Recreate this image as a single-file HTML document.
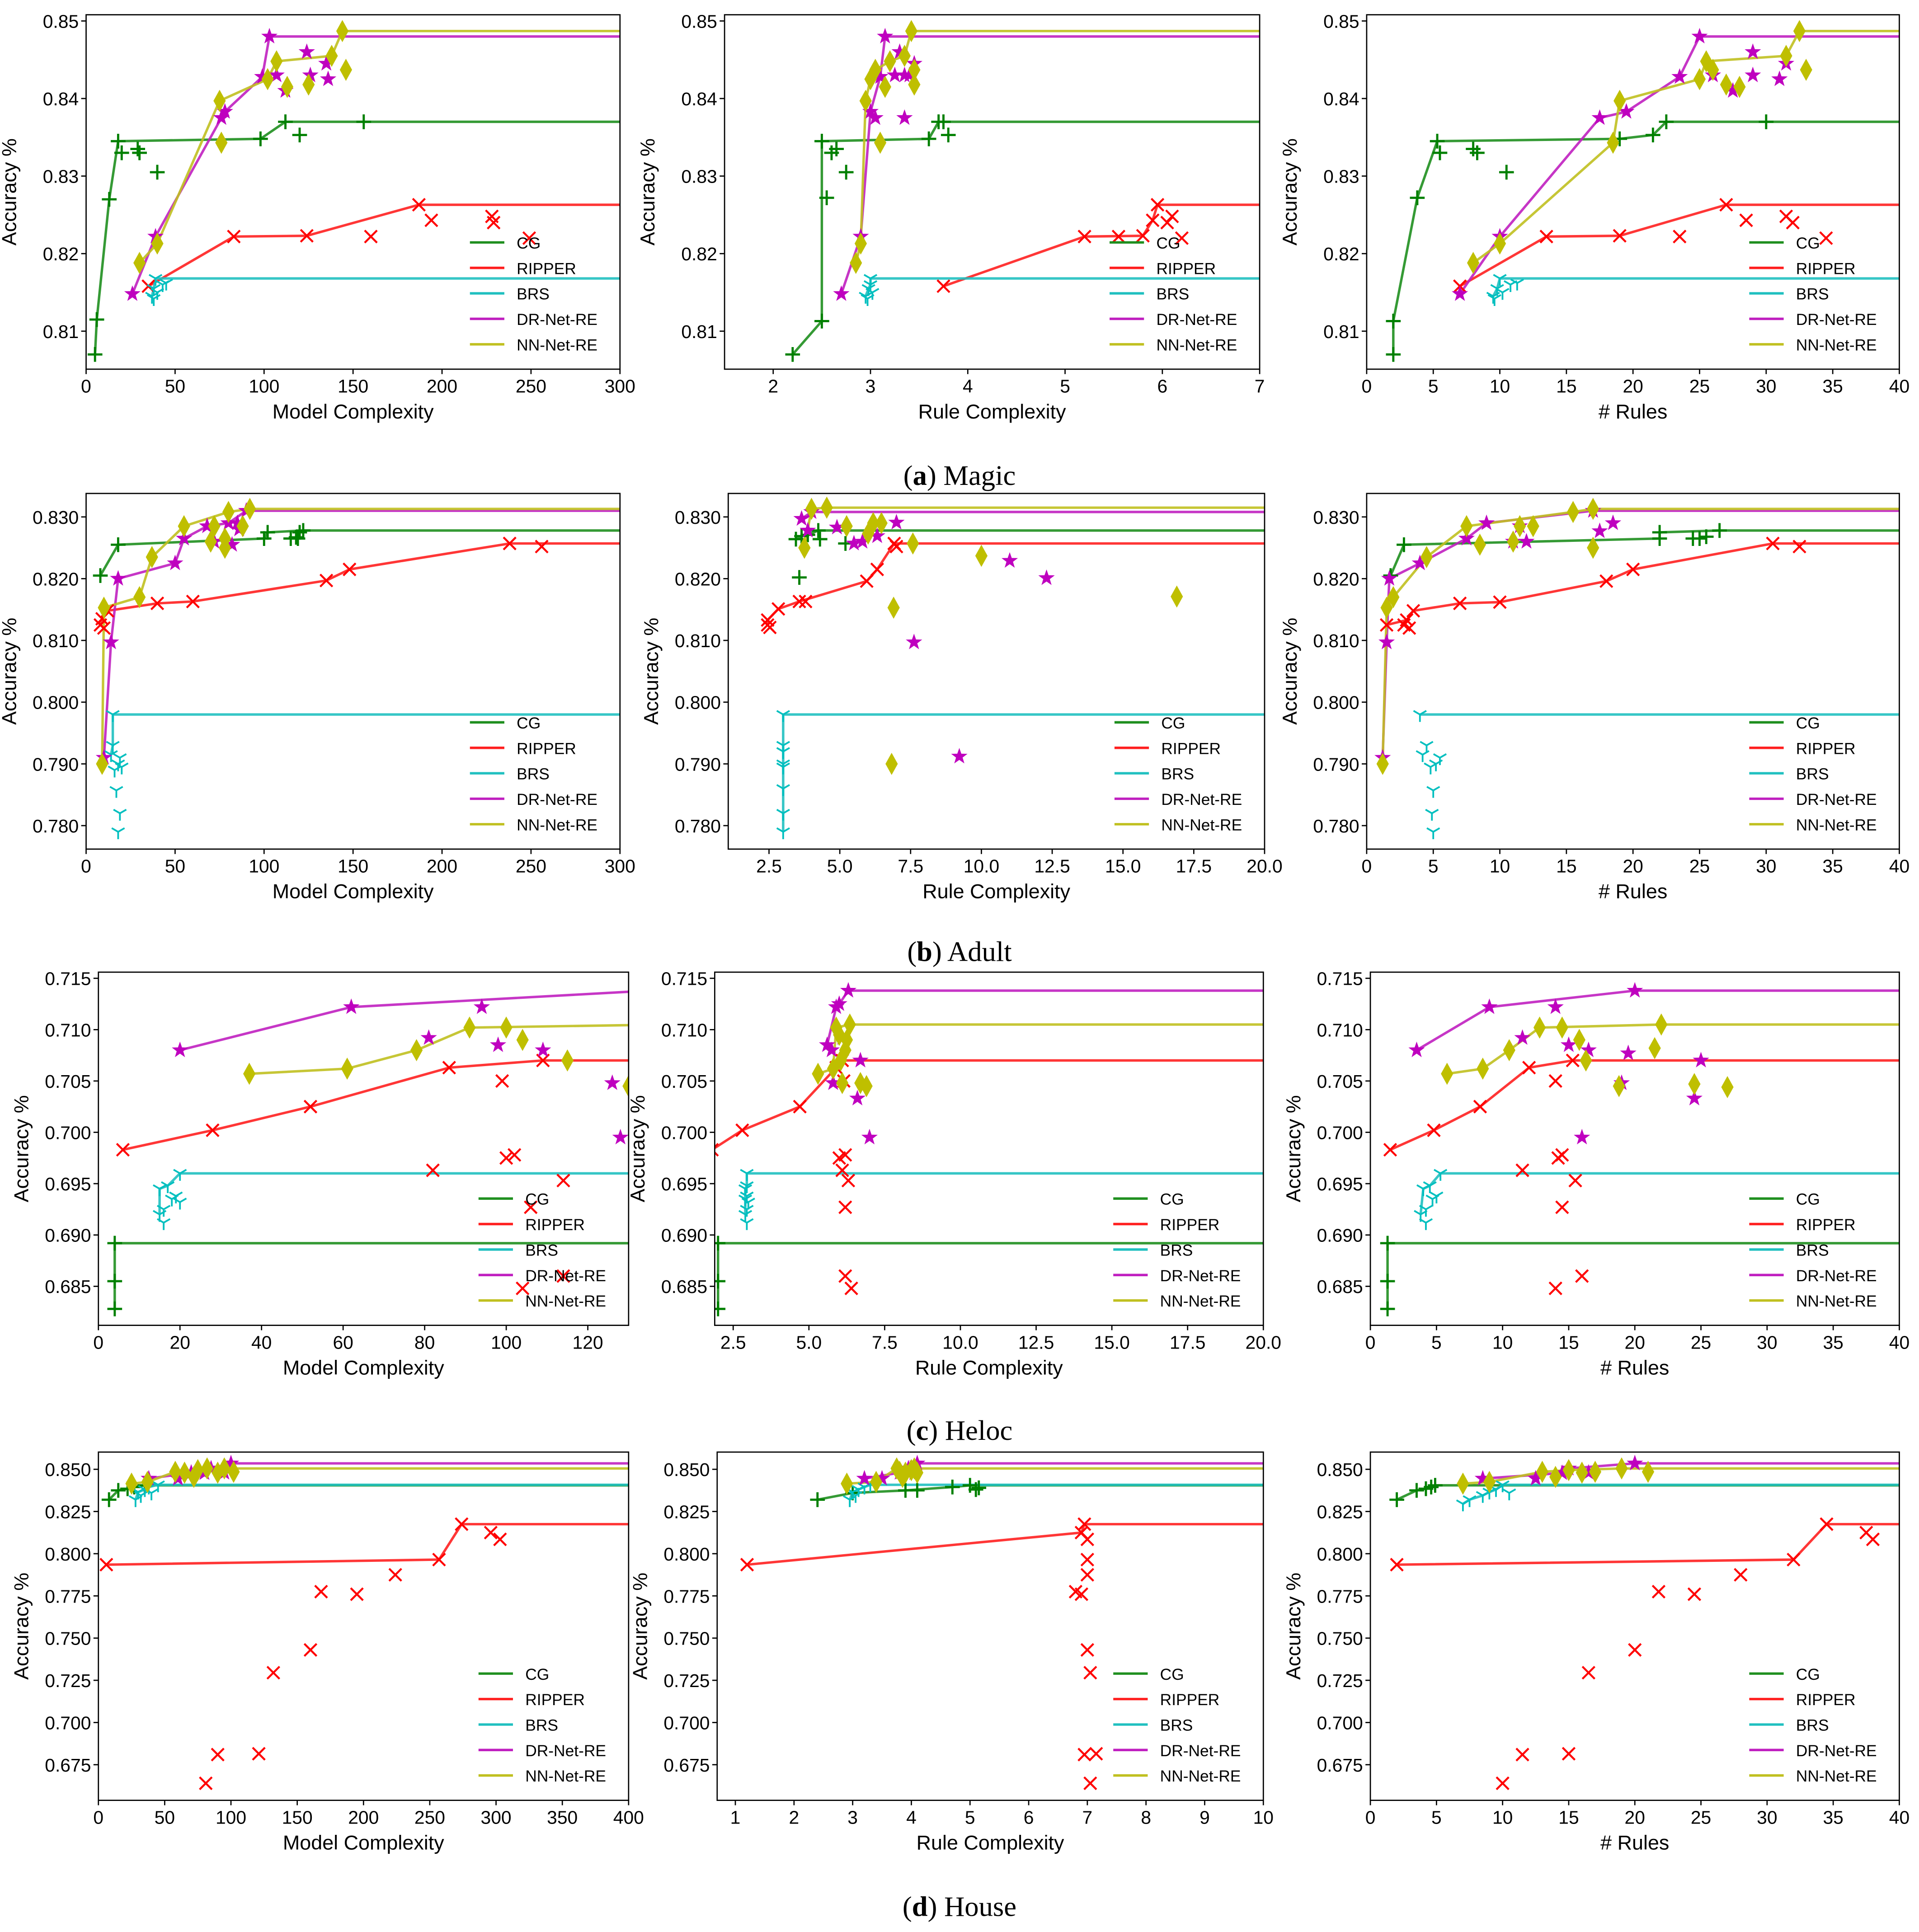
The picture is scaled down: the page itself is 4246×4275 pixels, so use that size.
<!DOCTYPE html>
<html><head><meta charset="utf-8"><style>
html,body{margin:0;padding:0;background:#fff;}
svg{display:block;}
text{font-family:"Liberation Sans",sans-serif;}
text.cap{font-family:"Liberation Serif",serif;}
</style></head>
<body>
<svg id="fig" width="4246" height="4275" viewBox="0 0 1560 1570" preserveAspectRatio="none" xmlns="http://www.w3.org/2000/svg"></svg>
<script>
const seriesNames = ['CG','RIPPER','BRS','DR-Net-RE','NN-Net-RE'];
const captions = [['a','Magic'],['b','Adult'],['c','Heloc'],['d','House']];
const xLabels = ['Model Complexity','Rule Complexity','# Rules'];

// ---- (a) Magic ----
const a1_CG=[[5,0.807],[6,0.8115],[13,0.827],[18,0.8345],[20,0.833],[29,0.8335],[30,0.833],[40,0.8305],[98,0.8348],[112,0.837],[120,0.8353],[156,0.837]];
const a1_RIPPER=[[35,0.8158],[83,0.8222],[124,0.8223],[160,0.8222],[187,0.8263],[194,0.8243],[228,0.8248],[229,0.824],[249,0.822]];
const a1_BRS=[[37,0.8145],[38,0.8155],[39,0.8168],[40,0.815],[43,0.816],[38,0.8142],[45,0.8162]];
const a1_DR=[[26,0.8148],[39,0.8222],[76,0.8375],[78,0.8383],[99,0.8428],[103,0.848],[107,0.843],[112,0.841],[124,0.846],[126,0.843],[135,0.8445],[136,0.8425]];
const a1_NN=[[30,0.8188],[40,0.8213],[75,0.8397],[76,0.8343],[102,0.8425],[107,0.8448],[113,0.8415],[125,0.8418],[138,0.8455],[144,0.8487],[146,0.8437]];
const a2_CG=[[2.2,0.807],[2.5,0.8113],[2.5,0.8345],[2.55,0.8272],[2.6,0.833],[2.65,0.8335],[2.75,0.8305],[3.6,0.8348],[3.75,0.837],[3.8,0.8353],[3.7,0.837]];
const a2_RIPPER=[[3.75,0.8158],[5.2,0.8222],[5.55,0.8222],[5.8,0.8223],[5.9,0.8243],[5.95,0.8263],[6.05,0.824],[6.1,0.8248],[6.2,0.822]];
const a2_BRS=[[2.95,0.8145],[2.98,0.8155],[3.0,0.8168],[3.02,0.815],[2.97,0.8142],[3.0,0.816]];
const a2_DR=[[2.7,0.8148],[2.9,0.8222],[3.0,0.8383],[3.05,0.8375],[3.1,0.8428],[3.15,0.848],[3.25,0.843],[3.3,0.846],[3.35,0.8375],[3.4,0.843],[3.45,0.8445],[3.35,0.843]];
const a2_NN=[[2.85,0.8188],[2.9,0.8213],[2.95,0.8397],[3.0,0.8425],[3.05,0.8437],[3.1,0.8343],[3.15,0.8415],[3.2,0.8448],[3.35,0.8455],[3.42,0.8487],[3.45,0.8437],[3.45,0.8418]];
const a3_CG=[[2,0.807],[2,0.8113],[3.8,0.8272],[5.3,0.8345],[5.5,0.833],[8,0.8335],[8.3,0.833],[10.5,0.8305],[19,0.8348],[21.5,0.8353],[22.5,0.837],[30,0.837]];
const a3_RIPPER=[[7,0.8158],[13.5,0.8222],[19,0.8223],[23.5,0.8222],[27,0.8263],[28.5,0.8243],[31.5,0.8248],[32,0.824],[34.5,0.822]];
const a3_BRS=[[9.5,0.8145],[9.8,0.8155],[10,0.8168],[10.2,0.815],[10.8,0.816],[11.3,0.8162],[9.6,0.8142]];
const a3_DR=[[7,0.8148],[10,0.8222],[17.5,0.8375],[19.5,0.8383],[23.5,0.8428],[25,0.848],[26,0.843],[27.5,0.841],[29,0.846],[29,0.843],[31,0.8425],[31.5,0.8445]];
const a3_NN=[[8,0.8188],[10,0.8213],[18.5,0.8343],[19,0.8397],[25,0.8425],[25.5,0.8448],[26,0.8437],[27,0.8418],[28,0.8415],[31.5,0.8455],[32.5,0.8487],[33,0.8437]];
// ---- (b) Adult ----
const b1_CG=[[8,0.8205],[18,0.8255],[100,0.8265],[102,0.8275],[115,0.8265],[118,0.8267],[120,0.8275],[119,0.8265],[122,0.8278]];
const b1_RIPPER=[[8,0.8125],[9,0.8135],[10,0.812],[12,0.8148],[40,0.816],[60,0.8163],[135,0.8197],[148,0.8215],[238,0.8257],[256,0.8252]];
const b1_BRS=[[14,0.7915],[15,0.798],[15,0.793],[16,0.789],[17,0.7857],[18,0.79],[19,0.791],[20,0.7895],[19,0.782],[18,0.779]];
const b1_DR=[[10,0.791],[14,0.8097],[18,0.82],[50,0.8225],[55,0.8265],[68,0.8285],[72,0.826],[80,0.829],[82,0.8255],[85,0.829],[86,0.828],[90,0.831]];
const b1_NN=[[9,0.79],[10,0.8153],[30,0.817],[37,0.8235],[55,0.8285],[70,0.826],[72,0.8285],[78,0.8265],[80,0.8308],[88,0.8285],[92,0.8313],[78,0.825]];
const b2_CG=[[3.45,0.8264],[3.57,0.8202],[3.65,0.8269],[3.87,0.8271],[4.24,0.8278],[4.3,0.8264],[5.2,0.8257]];
const b2_RIPPER=[[2.45,0.8125],[2.45,0.8133],[2.53,0.8121],[2.83,0.8151],[3.57,0.8163],[3.79,0.8163],[5.95,0.8196],[6.32,0.8215],[6.92,0.8257],[7.0,0.8252]];
const b2_BRS=[[3,0.798],[3,0.793],[3,0.792],[3,0.790],[3,0.7895],[3,0.786],[3,0.782],[3,0.779]];
const b2_DR=[[3.65,0.8297],[3.87,0.8278],[4.0,0.8308],[4.9,0.8283],[5.5,0.8257],[5.8,0.826],[6.32,0.8269],[7.0,0.8291],[7.62,0.8097],[9.22,0.7912],[11.0,0.8229],[12.3,0.8201]];
const b2_NN=[[3.75,0.825],[4.0,0.8313],[4.54,0.8315],[5.24,0.8285],[6.0,0.8273],[6.18,0.829],[6.47,0.829],[6.9,0.8153],[6.83,0.790],[7.58,0.8257],[10.0,0.8237],[16.9,0.8171]];
const b3_CG=[[1.8,0.8205],[2.8,0.8255],[22,0.8275],[22,0.8265],[24.5,0.8265],[25,0.8265],[25.5,0.8268],[26.5,0.8278]];
const b3_RIPPER=[[1.5,0.8125],[2.8,0.8125],[3.0,0.8133],[3.2,0.812],[3.5,0.8148],[7,0.816],[10,0.8162],[18,0.8196],[20,0.8215],[30.5,0.8257],[32.5,0.8252]];
const b3_BRS=[[4,0.798],[4.2,0.7915],[4.5,0.793],[4.8,0.7895],[5,0.7857],[5.2,0.79],[5.5,0.791],[4.9,0.782],[5,0.779]];
const b3_DR=[[1.2,0.791],[1.5,0.8097],[1.7,0.82],[4,0.8225],[7.5,0.8265],[9,0.829],[11,0.826],[11.5,0.8285],[12,0.826],[17,0.831],[17.5,0.8277],[18.5,0.829]];
const b3_NN=[[1.2,0.79],[1.5,0.8153],[2,0.817],[4.5,0.8235],[7.5,0.8285],[8.5,0.8255],[11.5,0.8285],[12.5,0.8285],[15.5,0.8308],[17,0.8313],[17,0.825],[11,0.826]];
// ---- (c) Heloc ----
const c1_CG=[[4,0.6892],[4,0.6855],[4,0.6828]];
const c1_RIPPER=[[6,0.6983],[28,0.7002],[52,0.7025],[86,0.7063],[82,0.6963],[99,0.705],[100,0.6975],[102,0.6978],[109,0.707],[114,0.6953],[106,0.6927],[104,0.6848],[114,0.686]];
const c1_BRS=[[15,0.692],[15,0.6945],[16,0.6912],[17,0.6948],[18,0.6935],[19,0.6938],[20,0.696],[16,0.6925],[20,0.6932]];
const c1_DR=[[20,0.708],[62,0.7122],[94,0.7122],[81,0.7092],[98,0.7085],[109,0.708],[126,0.7048],[128,0.6995],[135,0.7138]];
const c1_NN=[[37,0.7057],[61,0.7062],[78,0.708],[91,0.7102],[100,0.7102],[104,0.709],[115,0.707],[130,0.7045],[140,0.7105]];
const c2_CG=[[2,0.6892],[2,0.6855],[2,0.6828]];
const c2_RIPPER=[[1.8,0.6983],[2.8,0.7002],[4.7,0.7025],[5.9,0.7063],[6.1,0.707],[6.0,0.6975],[6.2,0.6978],[6.1,0.6963],[6.3,0.6953],[6.2,0.6927],[6.2,0.686],[6.4,0.6848],[6.15,0.705]];
const c2_BRS=[[2.95,0.696],[2.95,0.6948],[2.9,0.6945],[2.95,0.6938],[2.9,0.6935],[3.0,0.6932],[2.95,0.6925],[2.9,0.692],[2.95,0.6912]];
const c2_DR=[[5.6,0.7085],[5.75,0.708],[5.9,0.7122],[6.0,0.7125],[6.3,0.7138],[6.7,0.707],[6.6,0.7033],[7.0,0.6995],[5.8,0.7048],[6.1,0.7092]];
const c2_NN=[[5.3,0.7057],[5.8,0.7062],[5.9,0.7102],[6.0,0.7095],[6.1,0.7048],[6.2,0.708],[6.25,0.709],[6.35,0.7105],[6.7,0.7048],[6.9,0.7045],[6.05,0.707]];
const c3_CG=[[1.3,0.6892],[1.3,0.6855],[1.3,0.6828]];
const c3_RIPPER=[[1.5,0.6983],[4.8,0.7002],[8.3,0.7025],[12,0.7063],[11.5,0.6963],[14,0.705],[14.2,0.6975],[14.5,0.6978],[14.5,0.6927],[14,0.6848],[15.5,0.6953],[15.3,0.707],[16,0.686]];
const c3_BRS=[[3.8,0.692],[4,0.6945],[4.2,0.6912],[4.5,0.6948],[4.7,0.6935],[5,0.6938],[5.3,0.696],[4.2,0.6925]];
const c3_DR=[[3.5,0.708],[9,0.7122],[11.5,0.7092],[14,0.7122],[15,0.7085],[16.5,0.708],[19,0.7048],[19.5,0.7077],[20,0.7138],[24.5,0.7033],[25,0.707],[16,0.6995]];
const c3_NN=[[5.8,0.7057],[8.5,0.7062],[10.5,0.708],[12.8,0.7102],[14.5,0.7102],[15.8,0.709],[16.3,0.707],[18.8,0.7045],[21.5,0.7082],[22,0.7105],[24.5,0.7047],[27,0.7044]];
// ---- (d) House ----
const d1_CG=[[8,0.832],[15,0.8375],[22,0.8385],[27,0.8395],[35,0.8405]];
const d1_RIPPER=[[6,0.7935],[257,0.7965],[274,0.8175],[296,0.8125],[303,0.8085],[224,0.7875],[195,0.776],[168,0.7775],[160,0.743],[132,0.7295],[90,0.681],[121,0.6815],[81,0.664]];
const d1_BRS=[[28,0.832],[30,0.8365],[32,0.8345],[35,0.838],[38,0.8395],[40,0.836],[45,0.8408]];
const d1_DR=[[38,0.8445],[60,0.8445],[70,0.848],[85,0.8505],[100,0.8535],[80,0.8478],[95,0.848]];
const d1_NN=[[25,0.8415],[37,0.8425],[58,0.8485],[65,0.848],[75,0.8495],[82,0.8505],[90,0.848],[95,0.8505],[102,0.8485],[72,0.8455]];
const d2_CG=[[2.4,0.832],[3.0,0.836],[3.9,0.8375],[4.1,0.8375],[4.7,0.8395],[5.0,0.8405],[5.1,0.838],[5.15,0.839]];
const d2_RIPPER=[[1.2,0.7935],[6.9,0.8125],[6.95,0.8175],[7.0,0.8085],[7.0,0.7965],[7.0,0.7875],[6.8,0.7775],[6.9,0.776],[7.0,0.743],[7.05,0.7295],[6.95,0.681],[7.15,0.6815],[7.05,0.664]];
const d2_BRS=[[2.95,0.832],[3.0,0.8365],[3.05,0.8345],[3.1,0.838],[3.2,0.8395],[3.3,0.8408]];
const d2_DR=[[3.2,0.8445],[3.5,0.8445],[3.8,0.848],[3.95,0.8505],[4.05,0.8478],[4.1,0.8535]];
const d2_NN=[[2.9,0.8415],[3.4,0.8425],[3.8,0.8485],[3.85,0.8455],[3.9,0.848],[4.0,0.8495],[4.05,0.8505],[4.1,0.848],[3.75,0.8505]];
const d3_CG=[[2,0.832],[3.5,0.8375],[4.2,0.8385],[4.6,0.8395],[4.9,0.8405]];
const d3_RIPPER=[[2,0.7935],[32,0.7965],[34.5,0.8175],[37.5,0.8125],[38,0.8085],[28,0.7875],[24.5,0.776],[21.8,0.7775],[20,0.743],[16.5,0.7295],[11.5,0.681],[15,0.6815],[10,0.664]];
const d3_BRS=[[7,0.8295],[7.5,0.832],[8.5,0.8345],[9,0.8365],[9.5,0.838],[10,0.8408],[10.5,0.836]];
const d3_DR=[[8.5,0.8445],[12.5,0.8445],[14.5,0.8478],[15,0.8505],[16.5,0.848],[20,0.8535]];
const d3_NN=[[7,0.8415],[9,0.8425],[13,0.8485],[14,0.8455],[15,0.8495],[16,0.848],[17,0.8485],[19,0.8505],[21,0.8485]];

// tick label arrays
const yTicksA=[0.81,0.82,0.83,0.84,0.85];
const yTicksB=[0.78,0.79,0.80,0.81,0.82,0.83];
const yTicksC=[0.685,0.690,0.695,0.700,0.705,0.710,0.715];
const yTicksD=[0.675,0.700,0.725,0.750,0.775,0.800,0.825,0.850];
const xTicks300=[0,50,100,150,200,250,300];
const xTicks40=[0,5,10,15,20,25,30,35,40];
const xTicksA2=[2,3,4,5,6,7];
const xTicks20=[2.5,5,7.5,10,12.5,15,17.5,20];
const xTicks120=[0,20,40,60,80,100,120];
const xTicks400=[0,50,100,150,200,250,300,350,400];
const xTicksD2=[1,2,3,4,5,6,7,8,9,10];

const colors={'CG':'#1f8f1f','RIPPER':'#ff2020','BRS':'#20c0c0','DR-Net-RE':'#c020c0','NN-Net-RE':'#c0c020'};
const mcolors={'CG':'#008000','RIPPER':'#ff0000','BRS':'#00bfbf','DR-Net-RE':'#bf00bf','NN-Net-RE':'#bfbf00'};

const panels=[
 {id:'a1',box:[70,12,504,300],xlim:[0,300],ylim:[0.8051,0.8508],xt:xTicks300,xd:0,yt:yTicksA,yd:2,s:[a1_CG,a1_RIPPER,a1_BRS,a1_DR,a1_NN]},
 {id:'a2',box:[589,12,1024,300],xlim:[1.5,7],ylim:[0.8051,0.8508],xt:xTicksA2,xd:0,yt:yTicksA,yd:2,s:[a2_CG,a2_RIPPER,a2_BRS,a2_DR,a2_NN]},
 {id:'a3',box:[1111,12,1544,300],xlim:[0,40],ylim:[0.8051,0.8508],xt:xTicks40,xd:0,yt:yTicksA,yd:2,s:[a3_CG,a3_RIPPER,a3_BRS,a3_DR,a3_NN]},
 {id:'b1',box:[70,401,504,690],xlim:[0,300],ylim:[0.7762,0.8338],xt:xTicks300,xd:0,yt:yTicksB,yd:3,s:[b1_CG,b1_RIPPER,b1_BRS,b1_DR,b1_NN]},
 {id:'b2',box:[592,401,1028,690],xlim:[1.06,20],ylim:[0.7762,0.8338],xt:xTicks20,xd:1,yt:yTicksB,yd:3,s:[b2_CG,b2_RIPPER,b2_BRS,b2_DR,b2_NN]},
 {id:'b3',box:[1111,401,1544,690],xlim:[0,40],ylim:[0.7762,0.8338],xt:xTicks40,xd:0,yt:yTicksB,yd:3,s:[b3_CG,b3_RIPPER,b3_BRS,b3_DR,b3_NN]},
 {id:'c1',box:[80,790,511,1077],xlim:[0,130],ylim:[0.6812,0.7156],xt:xTicks120,xd:0,yt:yTicksC,yd:3,s:[c1_CG,c1_RIPPER,c1_BRS,c1_DR,c1_NN]},
 {id:'c2',box:[581,790,1027,1077],xlim:[1.89,20],ylim:[0.6812,0.7156],xt:xTicks20,xd:1,yt:yTicksC,yd:3,s:[c2_CG,c2_RIPPER,c2_BRS,c2_DR,c2_NN]},
 {id:'c3',box:[1114,790,1544,1077],xlim:[0,40],ylim:[0.6812,0.7156],xt:xTicks40,xd:0,yt:yTicksC,yd:3,s:[c3_CG,c3_RIPPER,c3_BRS,c3_DR,c3_NN]},
 {id:'d1',box:[80,1180,511,1463],xlim:[0,400],ylim:[0.6539,0.8602],xt:xTicks400,xd:0,yt:yTicksD,yd:3,s:[d1_CG,d1_RIPPER,d1_BRS,d1_DR,d1_NN]},
 {id:'d2',box:[583,1180,1027,1463],xlim:[0.69,10],ylim:[0.6539,0.8602],xt:xTicksD2,xd:0,yt:yTicksD,yd:3,s:[d2_CG,d2_RIPPER,d2_BRS,d2_DR,d2_NN]},
 {id:'d3',box:[1114,1180,1544,1463],xlim:[0,40],ylim:[0.6539,0.8602],xt:xTicks40,xd:0,yt:yTicksD,yd:3,s:[d3_CG,d3_RIPPER,d3_BRS,d3_DR,d3_NN]}
];
const NS='http://www.w3.org/2000/svg';
const svg=document.getElementById('fig');
function mk(tag,attrs,parent){const e=document.createElementNS(NS,tag);for(const k in attrs)e.setAttribute(k,attrs[k]);parent.appendChild(e);return e;}

function marker(g,kind,px,py,col){
 let e;
 if(kind===0){e=mk('path',{d:`M${px-6},${py}H${px+6}M${px},${py-6}V${py+6}`,stroke:col,'stroke-width':1.8,fill:'none'},g);}
 else if(kind===1){e=mk('path',{d:`M${px-5},${py-5}L${px+5},${py+5}M${px-5},${py+5}L${px+5},${py-5}`,stroke:col,'stroke-width':1.6,fill:'none'},g);}
 else if(kind===2){e=mk('path',{d:`M${px},${py}V${py+6}M${px},${py}L${px-5.2},${py-3}M${px},${py}L${px+5.2},${py-3}`,stroke:col,'stroke-width':1.4,fill:'none'},g);}
 else if(kind===3){let p=[];for(let i=0;i<10;i++){const r=i%2?2.8:7;const a=-Math.PI/2+i*Math.PI/5;p.push((px+r*Math.cos(a)).toFixed(2)+','+(py+r*Math.sin(a)).toFixed(2));}
  e=mk('polygon',{points:p.join(' '),fill:col},g);}
 else {e=mk('polygon',{points:`${px},${py-9} ${px+5},${py} ${px},${py+9} ${px-5},${py}`,fill:col},g);}
 
 
}

panels.forEach(p=>{
 const [L,T,R,B]=p.box;
 const X=v=>L+(v-p.xlim[0])/(p.xlim[1]-p.xlim[0])*(R-L);
 const Y=v=>B-(v-p.ylim[0])/(p.ylim[1]-p.ylim[0])*(B-T);
 const g=mk('g',{},svg);
 
 
 const cp=mk('clipPath',{id:'clip'+p.id},g);
 mk('rect',{x:L,y:T,width:R-L,height:B-T},cp);
 const plot=mk('g',{'clip-path':`url(#clip${p.id})`},g);
 p.s.forEach((pts,si)=>{
  const sorted=pts.slice().sort((a,b)=>a[0]-b[0]||a[1]-b[1]);
  let best=-1,line=[];
  sorted.forEach(q=>{if(q[1]>best){best=q[1];line.push(q);}});
  line.push([p.xlim[1]+1000,best]);
  const d=line.map((q,i)=>(i?'L':'M')+X(q[0]).toFixed(2)+','+Y(q[1]).toFixed(2)).join('');
  const pl=mk('path',{d:d,stroke:colors[seriesNames[si]],'stroke-width':2,fill:'none','stroke-opacity':0.9},plot);
  
  
 });
 p.s.forEach((pts,si)=>{
  const mg=mk('g',{},plot);
  
  
  pts.forEach(q=>marker(mg,si,X(q[0]),Y(q[1]),mcolors[seriesNames[si]]));
 });
 const fr=mk('rect',{x:L,y:T,width:R-L,height:B-T,fill:'none',stroke:'#000','stroke-width':1},g);
 
 
 p.xt.forEach(v=>{const x=X(v);
  mk('line',{x1:x,y1:B,x2:x,y2:B+4,stroke:'#000','stroke-width':1},g);
  const t=mk('text',{x:x,y:B+19,'font-size':15,'text-anchor':'middle',fill:'#000'},g);
  t.textContent=v.toFixed(p.xd);
  
  
 });
 p.yt.forEach(v=>{const y=Y(v);
  mk('line',{x1:L-4,y1:y,x2:L,y2:y,stroke:'#000','stroke-width':1},g);
  const t=mk('text',{x:L-6,y:y+5.5,'font-size':15,'text-anchor':'end',fill:'#000'},g);
  t.textContent=v.toFixed(p.yd);
  
  
 });
 const col=+p.id[1]-1;
 const xl=mk('text',{x:(L+R)/2,y:B+40,'font-size':16.5,'text-anchor':'middle',fill:'#000'},g);
 xl.textContent=xLabels[col];
 
 
 const yx=L-57, yy=(T+B)/2;
 const ylab=mk('text',{x:yx,y:yy,'font-size':16.5,'text-anchor':'middle',fill:'#000',transform:`rotate(-90 ${yx} ${yy})`},g);
 ylab.textContent='Accuracy %';
 
 
 const lg=mk('g',{},g);
 
 
 seriesNames.forEach((n,i)=>{const y=B-103+i*20.7;
  mk('line',{x1:R-122,y1:y,x2:R-94,y2:y,stroke:colors[n],'stroke-width':2},lg);
  const t=mk('text',{x:R-84,y:y+5,'font-size':13,fill:'#000'},lg);
  t.textContent=n;
  
  
 });
});
const capY=[387,774,1163,1550];
captions.forEach((c,i)=>{
 const t=mk('text',{x:780,y:capY[i]+7,'font-size':23,'text-anchor':'middle',fill:'#000','class':'cap',style:'font-family:"Liberation Serif",serif'},svg);
 
 
 const t1=mk('tspan',{},t);t1.textContent='(';
 const t2=mk('tspan',{'font-weight':'bold'},t);t2.textContent=c[0];
 const t3=mk('tspan',{},t);t3.textContent=') '+c[1];
});
</script>
</body></html>
